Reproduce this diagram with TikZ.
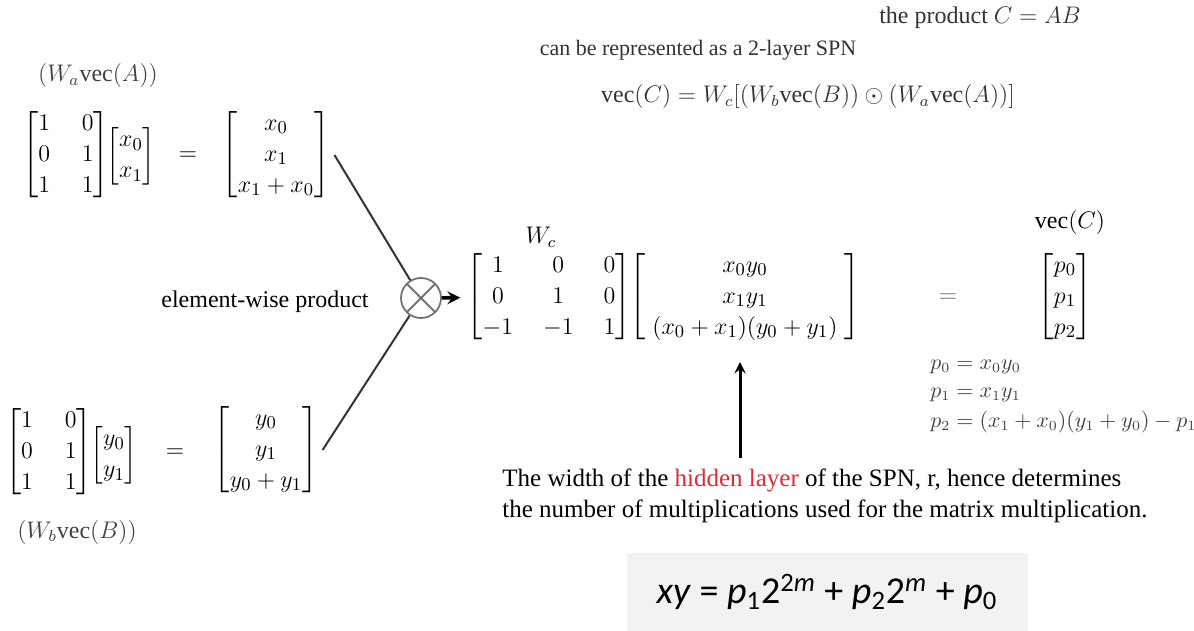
\documentclass[tikz,border=0pt]{standalone}
\usepackage{amsmath}
\usepackage{fontspec}
\setmainfont{Liberation Serif}
\newfontfamily\calib{Carlito}
\definecolor{hidred}{RGB}{228,40,52}

\tikzset{
  >={stealth},   % default arrow tip
  every node/.style={font=\fontsize{12}{15}\selectfont, inner sep=1pt},
  matnode/.style={font=\fontsize{13}{15.5}\selectfont, inner sep=0pt},
  pline/.style={font=\fontsize{10.5}{13}\selectfont, anchor=west, text=black!75},
  prodop/.style={circle, draw=black!55, line width=0.9pt, minimum size=20pt,
    path picture={\draw[black!55, line width=0.9pt]
      (path picture bounding box.north west) -- (path picture bounding box.south east)
      (path picture bounding box.south west) -- (path picture bounding box.north east);}},
  xybox/.style={fill=black!5, minimum width=200.5pt, minimum height=39pt}
}

\begin{document}
\begin{tikzpicture}[x=0.5pt, y=-0.5pt]
\useasboundingbox (0,0) rectangle (1194,631);

%==================== top: the product ====================
\node[text=black!80] (prodC) at (980,18) {the product $C=AB$};
\node[text=black!80, font=\fontsize{11}{13}\selectfont] (spn) at (698,50)
  {can be represented as a 2-layer SPN};
\node[text=black!80] (vecEq) at (808,97)
  {$\mathrm{vec}(C)=W_c[(W_b\mathrm{vec}(B))\odot(W_a\mathrm{vec}(A))]$};

%==================== left: W_a vec(A) ====================
\node[text=black!75] (lblA) at (98,76) {$(W_a\mathrm{vec}(A))$};
\node[matnode] (matA) at (66,155)
  {\setlength{\arraycolsep}{8pt}$\begin{bmatrix}1&0\\0&1\\1&1\end{bmatrix}$};
\node[matnode] (vecX) at (131,156) {$\begin{bmatrix}x_0\\x_1\end{bmatrix}$};
\node[matnode] (eqA) at (188,156) {$=$};
\node[matnode] (resA) at (276,155) {$\begin{bmatrix}x_0\\x_1\\x_1+x_0\end{bmatrix}$};

%==================== left: W_b vec(B) ====================
\node[matnode] (matB) at (49,452)
  {\setlength{\arraycolsep}{8pt}$\begin{bmatrix}1&0\\0&1\\1&1\end{bmatrix}$};
\node[matnode] (vecY) at (114,455) {$\begin{bmatrix}y_0\\y_1\end{bmatrix}$};
\node[matnode] (eqB) at (175,453) {$=$};
\node[matnode] (resB) at (266,450) {$\begin{bmatrix}y_0\\y_1\\y_0+y_1\end{bmatrix}$};
\node[text=black!75] (lblB) at (77,532) {$(W_b\mathrm{vec}(B))$};

%==================== element-wise product ====================
\node (ewp) at (265,302) {element-wise product};
\node[prodop] (prod) at (421,298) {};
\draw[line width=1pt, black!80] ([xshift=2pt]resA.east) -- (prod);
\draw[line width=1pt, black!80] ([xshift=2pt]resB.east) -- (prod);

%==================== W_c times hidden layer ====================
\node (lblWc) at (541,237) {$W_c$};
\node[matnode] (matWc) at (549,297)
  {\setlength{\arraycolsep}{7.5pt}$\begin{bmatrix}1&0&0\\0&1&0\\-1&-1&1\end{bmatrix}$};
\node[matnode] (vecH) at (745,297)
  {$\begin{bmatrix}\quad x_0y_0\quad\\x_1y_1\\\;(x_0+x_1)(y_0+y_1)\;\end{bmatrix}$};
\draw[->, line width=1.8pt, shorten >=3pt] (prod) -- (matWc);

\node[matnode, text=black!60] (eqC) at (948,298) {$=$};
\node (lblC) at (1070,222) {$\mathrm{vec}(C)$};
\node[matnode] (vecP) at (1065,297) {$\begin{bmatrix}p_0\\p_1\\p_2\end{bmatrix}$};

% p_i values
\node[pline] (pA) at (928,367) {$p_0=x_0y_0$};
\node[pline] (pB) at (928,395) {$p_1=x_1y_1$};
\node[pline] (pC) at (928,422) {$p_2=(x_1+x_0)(y_1+y_0)-p_1$};

%==================== hidden layer note ====================
\node[anchor=north west, align=left, font=\fontsize{12.5}{15.5}\selectfont] (note) at (500,466)
  {The width of the \textcolor{hidred}{hidden layer} of the SPN, r, hence determines\\
   the number of multiplications used for the matrix multiplication.};
\coordinate (tail) at (740,458);
\coordinate (tip) at (740,362);
\draw[->, line width=1.5pt] (tail) -- (tip);

%==================== xy formula ====================
\node[xybox] (xyBox) at (827,592)
  {\raisebox{-4pt}{\calib\fontsize{19}{22}\selectfont
   \textit{xy} = \textit{p}\textsubscript{1}2\textsuperscript{2\textit{m}}
   + \textit{p}\textsubscript{2}2\textsuperscript{\textit{m}} + \textit{p}\textsubscript{0}}};

\end{tikzpicture}
\end{document}
